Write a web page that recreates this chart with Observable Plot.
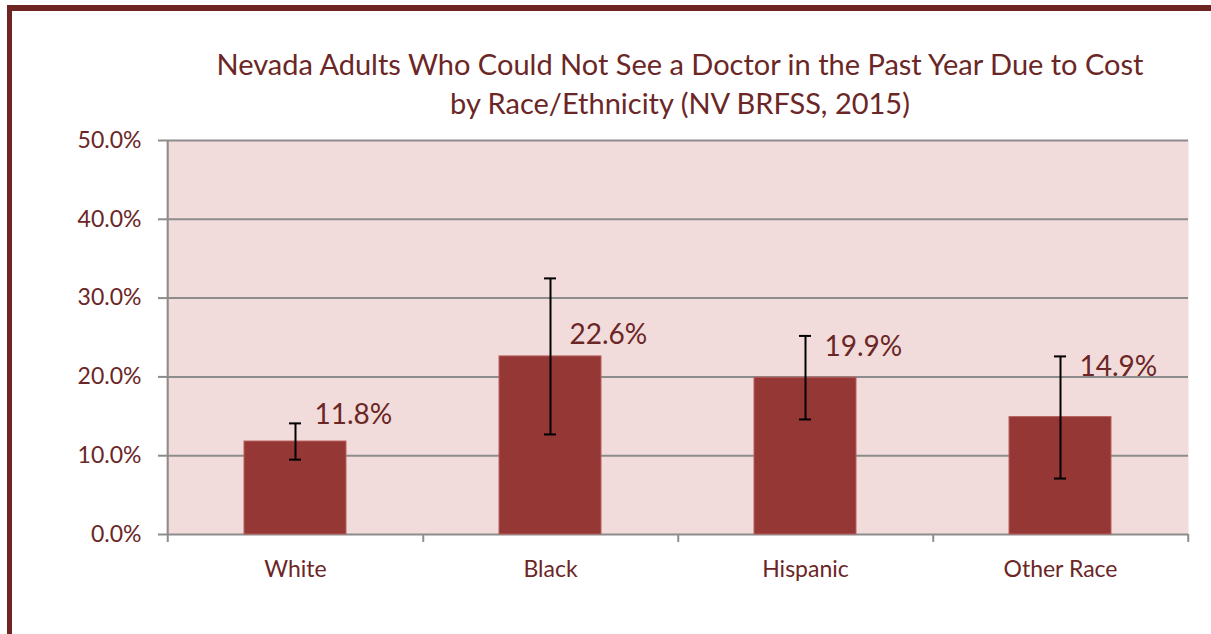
<!DOCTYPE html>
<html>
<head>
<meta charset="utf-8">
<script src="https://cdn.jsdelivr.net/npm/d3@7"></script>
<script src="https://cdn.jsdelivr.net/npm/@observablehq/plot@0.6"></script>
<style>
  html, body { margin: 0; padding: 0; background: #fff; }
  #wrap { position: relative; width: 1211px; height: 634px; overflow: hidden; font-family: Lato, "Noto Sans", sans-serif; }
  #frameTop { position: absolute; left: 7px; top: 5px; width: 1204px; height: 6px; background: #6e2422; }
  #frameLeft { position: absolute; left: 7px; top: 5px; width: 5px; height: 629px; background: #6e2422; }
  #title { position: absolute; left: 0; width: 1360px; top: 44px; text-align: center; color: #6b2626; font-size: 29px; line-height: 39px; }
  #chart { position: absolute; left: 0; top: 0; }
</style>
</head>
<body>
<div id="wrap">
  <div id="chart"></div>
  <div id="frameTop"></div>
  <div id="frameLeft"></div>
  <div id="title">Nevada Adults Who Could Not See a Doctor in the Past Year Due to Cost<br>by Race/Ethnicity (NV BRFSS, 2015)</div>
</div>
<script>
const categories = ["White", "Black", "Hispanic", "Other Race"];
const values = [11.8, 22.6, 19.9, 14.9];
const lower = [9.5, 12.7, 14.6, 7.1];
const upper = [14.1, 32.5, 25.2, 22.6];
const yTicks = [0, 10, 20, 30, 40, 50];

const data = categories.map((c, i) => ({ cat: c, value: values[i], lo: lower[i], hi: upper[i] }));

const W = 1211, H = 634, ML = 166, MR = 23, MT = 140, MB = 100;
const step = (W - ML - MR) / categories.length;
const labelDy = [-26, -21, -31, -50];
const maroon = "#6b2626";
const grid = "#8c8c8c";

const chart = Plot.plot({
  width: W,
  height: H,
  marginLeft: ML,
  marginRight: MR,
  marginTop: MT,
  marginBottom: MB,
  style: { fontFamily: "Lato, 'Noto Sans', sans-serif", background: "transparent", overflow: "visible" },
  x: { domain: categories, paddingInner: 0.6, paddingOuter: 0.3, label: null },
  y: { domain: [0, 50], label: null },
  marks: [
    Plot.frame({ fill: "#f2dcdb", stroke: "none" }),
    Plot.ruleY(yTicks, { stroke: grid, strokeWidth: 2 }),
    // left axis line
    Plot.ruleX([categories[0]], { dx: -step / 2, y1: -1, y2: 50, stroke: grid, strokeWidth: 2 }),
    // category boundary ticks
    Plot.ruleX(categories, { dx: step / 2, y1: -1, y2: 0, stroke: grid, strokeWidth: 2 }),
    Plot.axisY({ ticks: yTicks, tickSize: 8, tickPadding: 17, tickFormat: d => d.toFixed(1) + "%", stroke: grid, strokeWidth: 2, fill: maroon, fontSize: 23, label: null }),
    Plot.axisX({ tickSize: 0, tickPadding: 26, fill: maroon, fontSize: 23, label: null }),
    Plot.barY(data, { x: "cat", y: "value", fill: "#953735", stroke: "#b5605e", strokeWidth: 1 }),
    Plot.ruleX(data, { x: "cat", y1: "lo", y2: "hi", stroke: "#000", strokeWidth: 2 }),
    Plot.tickY(data, { x: "cat", y: "lo", stroke: "#000", strokeWidth: 2, insetLeft: 45, insetRight: 45 }),
    Plot.tickY(data, { x: "cat", y: "hi", stroke: "#000", strokeWidth: 2, insetLeft: 45, insetRight: 45 }),
    ...data.map((d, i) => Plot.text([d], { x: "cat", y: "value", text: e => e.value.toFixed(1) + "%", dx: 19, dy: labelDy[i], textAnchor: "start", fill: maroon, fontSize: 28 }))
  ]
});
document.getElementById("chart").appendChild(chart);
</script>
</body>
</html>
